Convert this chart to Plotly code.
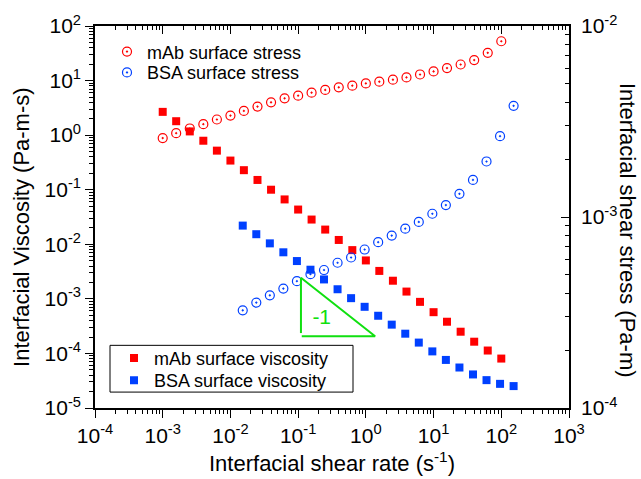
import plotly.graph_objects as go

# Shear rates (1/s)
rate_mab = [0.001, 0.00158, 0.00251, 0.00398, 0.00631, 0.01, 0.0158, 0.0251, 0.0398, 0.0631,
            0.1, 0.158, 0.251, 0.398, 0.631, 1.0, 1.58, 2.51, 3.98, 6.31,
            10.0, 15.8, 25.1, 39.8, 63.1, 100.0]
rate_bsa = [0.0152, 0.0241, 0.0382, 0.0605, 0.0959, 0.152, 0.241, 0.382, 0.605, 0.959,
            1.52, 2.41, 3.82, 6.05, 9.59, 15.2, 24.1, 38.2, 60.5, 95.9, 152.0]

# Interfacial viscosity (Pa-m-s)
visc_mab = [2.67, 1.80, 1.17, 0.79, 0.52, 0.342, 0.228, 0.151, 0.100, 0.0664,
            0.0433, 0.0284, 0.0186, 0.0120, 0.00782, 0.00506, 0.00325, 0.00215, 0.00136, 0.000881,
            0.000570, 0.000381, 0.000250, 0.000164, 0.000113, 0.0000805]
visc_bsa = [0.0220, 0.0153, 0.0104, 0.00713, 0.00493, 0.00342, 0.00227, 0.00150, 0.00103, 0.000715,
            0.000490, 0.000337, 0.000230, 0.000158, 0.000109, 0.0000760, 0.0000552, 0.0000412,
            0.0000324, 0.0000277, 0.0000252]

# Interfacial shear stress (Pa-m)
stress_mab = [0.002588, 0.002748, 0.002907, 0.003062, 0.003239, 0.003398, 0.003594, 0.003786,
              0.003986, 0.004181, 0.004319, 0.004477, 0.004625, 0.004772, 0.004870, 0.005006,
              0.005109, 0.005233, 0.005379, 0.005574, 0.005780, 0.006021, 0.006286, 0.006629,
              0.007233, 0.008322]
stress_bsa = [0.0003247, 0.0003565, 0.0003891, 0.0004217, 0.0004613, 0.0005018, 0.0005277,
              0.0005760, 0.0006138, 0.0006757, 0.0007383, 0.0007989, 0.0008690, 0.0009418,
              0.001040, 0.001155, 0.001322, 0.001563, 0.001953, 0.002651, 0.003819]

# Slope guide (-1) drawn against the viscosity axis
slope_x = [0.110, 1.37, 0.113, None, 0.110, 0.110]
slope_y = [0.00244, 0.000206, 0.000206, None, 0.00244, 0.000236]
slope_label_x = [0.223]
slope_label_y = [0.000432]

# Tick positions and labels
x_tickvals = [1e-4, 1e-3, 1e-2, 1e-1, 1e0, 1e1, 1e2, 1e3]
x_ticktext = ["10<sup>-4</sup>", "10<sup>-3</sup>", "10<sup>-2</sup>", "10<sup>-1</sup>",
              "10<sup>0</sup>", "10<sup>1</sup>", "10<sup>2</sup>", "10<sup>3</sup>"]
y_tickvals = [1e-5, 1e-4, 1e-3, 1e-2, 1e-1, 1e0, 1e1, 1e2]
y_ticktext = ["10<sup>-5</sup>", "10<sup>-4</sup>", "10<sup>-3</sup>", "10<sup>-2</sup>",
              "10<sup>-1</sup>", "10<sup>0</sup>", "10<sup>1</sup>", "10<sup>2</sup>"]
y2_tickvals = [1e-4, 1e-3, 1e-2]
y2_ticktext = ["10<sup>-4</sup>", "10<sup>-3</sup>", "10<sup>-2</sup>"]


def minor_positions(lo_exp, hi_exp):
    return [m * 10 ** e for e in range(lo_exp, hi_exp) for m in range(2, 10)]


# Plot area in pixels (for placing legends / titles in paper coordinates)
PX_L, PX_R, PX_T, PX_B = 95, 569, 24, 408


def px(xp):
    return (xp - PX_L) / (PX_R - PX_L)


def py(yp):
    return (PX_B - yp) / (PX_B - PX_T)


FONT = "Liberation Sans, Arial, sans-serif"
RED = "#FF0000"
BLUE = "#0040FF"
GREEN = "#10E010"

fig = go.Figure()

fig.add_trace(go.Scatter(
    x=rate_mab, y=visc_mab, mode="markers", name="mAb surface viscosity",
    marker=dict(symbol="square", size=8, color=RED), legend="legend3"))
fig.add_trace(go.Scatter(
    x=rate_bsa, y=visc_bsa, mode="markers", name="BSA surface viscosity",
    marker=dict(symbol="square", size=8, color=BLUE), legend="legend4"))
fig.add_trace(go.Scatter(
    x=rate_mab, y=stress_mab, mode="markers", name="mAb surface stress", yaxis="y2",
    marker=dict(symbol="circle-open-dot", size=9, color=RED, line=dict(width=1.2)),
    legend="legend"))
fig.add_trace(go.Scatter(
    x=rate_bsa, y=stress_bsa, mode="markers", name="BSA surface stress", yaxis="y2",
    marker=dict(symbol="circle-open-dot", size=9, color=BLUE, line=dict(width=1.2)),
    legend="legend2"))
fig.add_trace(go.Scatter(
    x=slope_x, y=slope_y, mode="lines", xaxis="x2", showlegend=False,
    line=dict(color=GREEN, width=2), hoverinfo="skip"))
fig.add_trace(go.Scatter(
    x=slope_label_x, y=slope_label_y, mode="text", text=["-1"], showlegend=False,
    textfont=dict(family=FONT, size=21, color=GREEN), hoverinfo="skip"))

axis_common = dict(
    type="log", showgrid=False, zeroline=False, showline=True,
    linecolor="black", linewidth=1.6, tickcolor="black", tickwidth=1.2,
    tickfont=dict(family=FONT, size=21, color="black"),
)

legend_font = dict(family=FONT, size=18, color="black")


def legend_at(x_left, y_center):
    return dict(x=px(x_left), y=py(y_center), xanchor="left", yanchor="middle",
                bgcolor="rgba(0,0,0,0)", borderwidth=0, font=legend_font)


fig.update_layout(
    width=641, height=479,
    margin=dict(l=PX_L, r=641 - PX_R, t=PX_T, b=479 - PX_B),
    paper_bgcolor="white", plot_bgcolor="white",
    font=dict(family=FONT, color="black"),
    xaxis=dict(
        **axis_common, range=[-4, 3], ticks="outside", ticklen=8,
        tickmode="array", tickvals=x_tickvals, ticktext=x_ticktext,
        minor=dict(tickmode="array", tickvals=minor_positions(-4, 3),
                   ticks="outside", ticklen=4, tickcolor="black", tickwidth=1),
    ),
    xaxis2=dict(
        **axis_common, range=[-4, 3], overlaying="x", side="top", anchor="y",
        ticks="inside", ticklen=8, showticklabels=False,
        tickmode="array", tickvals=x_tickvals,
        minor=dict(tickmode="array", tickvals=minor_positions(-4, 3),
                   ticks="inside", ticklen=4, tickcolor="black", tickwidth=1),
    ),
    yaxis=dict(
        **axis_common, range=[-5, 2], ticks="outside", ticklen=8,
        tickmode="array", tickvals=y_tickvals, ticktext=y_ticktext,
        minor=dict(tickmode="array", tickvals=minor_positions(-5, 2),
                   ticks="outside", ticklen=4, tickcolor="black", tickwidth=1),
    ),
    yaxis2=dict(
        **axis_common, range=[-4, -2], overlaying="y", side="right", anchor="x",
        ticks="inside", ticklen=8, ticklabelstandoff=6,
        tickmode="array", tickvals=y2_tickvals, ticktext=y2_ticktext,
        minor=dict(tickmode="array", tickvals=minor_positions(-4, -2),
                   ticks="inside", ticklen=4, tickcolor="black", tickwidth=1),
    ),
    legend=legend_at(107, 50),
    legend2=legend_at(107, 71),
    legend3=legend_at(114, 358),
    legend4=legend_at(114, 380.5),
    shapes=[
        dict(type="rect", xref="paper", yref="paper",
             x0=px(110), x1=px(353), y0=py(392), y1=py(345),
             line=dict(color="black", width=1), fillcolor="white", layer="above"),
    ],
    annotations=[
        dict(text="Interfacial shear rate (s<sup>-1</sup>)", xref="paper", yref="paper",
             x=0.5, y=py(462), xanchor="center", yanchor="middle",
             showarrow=False, font=dict(family=FONT, size=22, color="black")),
        dict(text="Interfacial Viscosity (Pa-m-s)", xref="paper", yref="paper",
             x=px(22), y=py(226), xanchor="center", yanchor="middle",
             textangle=-90, showarrow=False, font=dict(family=FONT, size=22, color="black")),
        dict(text="Interfacial shear stress (Pa-m)", xref="paper", yref="paper",
             x=px(627), y=py(229), xanchor="center", yanchor="middle",
             textangle=90, showarrow=False, font=dict(family=FONT, size=22, color="black")),
    ],
)

fig.write_html("out.html")
